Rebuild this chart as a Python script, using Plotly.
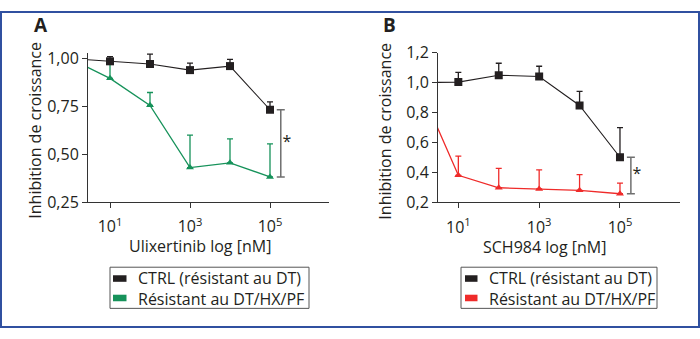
import plotly.graph_objects as go

# ---- data -------------------------------------------------------------
doses = [1, 10, 100, 1000, 10000, 100000]  # nM

# Panel A : Ulixertinib
ulix_ctrl = [1.0, 0.985, 0.971, 0.939, 0.960, 0.732]
ulix_ctrl_err = [0.0, 0.025, 0.052, 0.037, 0.035, 0.041]
ulix_res = [1.0, 0.896, 0.755, 0.430, 0.455, 0.381]
ulix_res_err = [0.0, 0.075, 0.067, 0.169, 0.125, 0.173]

# Panel B : SCH984
sch_ctrl = [1.0, 1.004, 1.050, 1.042, 0.848, 0.502]
sch_ctrl_err = [0.0, 0.065, 0.080, 0.068, 0.094, 0.198]
sch_res = [1.0, 0.381, 0.298, 0.290, 0.281, 0.258]
sch_res_err = [0.0, 0.128, 0.129, 0.127, 0.105, 0.071]

series_names = ["CTRL (résistant au DT)", "Résistant au DT/HX/PF"]
x_titles = ["Ulixertinib log [nM]", "SCH984 log [nM]"]
y_title = "Inhibition de croissance"
panel_letters = ["A", "B"]
x_tickvals = [10, 1000, 100000]
x_ticktext = ["10<sup>1</sup>", "10<sup>3</sup>", "10<sup>5</sup>"]
signif = "*"

# ---- style ------------------------------------------------------------
W, H = 700, 339
FONT = "Open Sans"
TXT = "#231f20"
AXC = "#333333"
BLACK = "#231f20"
GREEN = "#16925a"
RED = "#ef2b2a"
GREY = "#6f6f6f"
LEG_SIZE = 16
LEG_STEP = 1.3 * LEG_SIZE  # plotly line spacing for <br>


def px(xp):
    return xp / W


def py(yp):
    return 1 - yp / H


fig = go.Figure()


def add_panel(xa, ya, ctrl, ctrl_err, res, res_err, res_color):
    fig.add_trace(go.Scatter(
        x=doses, y=res, xaxis=xa, yaxis=ya, mode="lines+markers",
        line=dict(color=res_color, width=1.3),
        marker=dict(symbol="triangle-up", size=7, color=res_color),
        error_y=dict(type="data", array=res_err, arrayminus=[0] * len(res_err),
                     color=res_color, thickness=1.3, width=3),
        showlegend=False, cliponaxis=True))
    fig.add_trace(go.Scatter(
        x=doses, y=ctrl, xaxis=xa, yaxis=ya, mode="lines+markers",
        line=dict(color=BLACK, width=1.1),
        marker=dict(symbol="square", size=8, color=BLACK),
        error_y=dict(type="data", array=ctrl_err, arrayminus=[0] * len(ctrl_err),
                     color=BLACK, thickness=1.3, width=3),
        showlegend=False, cliponaxis=True))
    # significance bracket between the two highest-dose means
    mid = (ctrl[-1] + res[-1]) / 2
    half = (ctrl[-1] - res[-1]) / 2
    fig.add_trace(go.Scatter(
        x=[doses[-1] * 1.86], y=[mid], xaxis=xa, yaxis=ya, mode="markers+text",
        marker=dict(size=1, color="rgba(0,0,0,0)"),
        error_y=dict(type="data", array=[half], color=GREY, thickness=1.5, width=4),
        text=[signif], textposition="middle right",
        textfont=dict(family=FONT, size=16, color=TXT),
        showlegend=False, cliponaxis=False))


add_panel("x", "y", ulix_ctrl, ulix_ctrl_err, ulix_res, ulix_res_err, GREEN)
add_panel("x2", "y2", sch_ctrl, sch_ctrl_err, sch_res, sch_res_err, RED)

xcommon = dict(type="log", showline=True, linecolor=AXC, linewidth=1,
               ticks="outside", ticklen=5, tickcolor=AXC, tickwidth=1,
               ticklabelstandoff=5,
               tickvals=x_tickvals, ticktext=x_ticktext, showgrid=False,
               zeroline=False, tickfont=dict(family=FONT, size=16, color=TXT))
ycommon = dict(showline=True, linecolor=AXC, linewidth=1, ticks="outside",
               ticklen=5, tickcolor=AXC, tickwidth=1, showgrid=False,
               zeroline=False, tickfont=dict(family=FONT, size=16, color=TXT))

fig.update_layout(
    width=W, height=H, margin=dict(l=0, r=0, t=0, b=0),
    paper_bgcolor="white", plot_bgcolor="white", separators=", ",
    font=dict(family=FONT, color=TXT),
    xaxis=dict(domain=[px(88), px(329)], range=[0.45, 6.475], anchor="y", **xcommon),
    yaxis=dict(domain=[py(204.3), py(45)], range=[0.25, 1.028], anchor="x",
               tick0=0.25, dtick=0.25, tickformat=".2f", **ycommon),
    xaxis2=dict(domain=[px(438), px(680)], range=[0.497, 6.485], anchor="y2", **xcommon),
    yaxis2=dict(domain=[py(204.7), py(44.7)], range=[0.2, 1.2], anchor="x2",
                tick0=0.2, dtick=0.2, tickformat=".1f", **ycommon),
    showlegend=False,
)

ann = []
shapes = []

# outer frame
shapes.append(dict(type="rect", xref="paper", yref="paper",
                   x0=px(1), x1=px(699), y0=py(338), y1=py(1),
                   line=dict(color="#3050a0", width=2)))

panels = [
    dict(letter=(41, 15), ytitle=(35, 128), xtitle=(200, 251),
         box=(110, 309), sw=(113, 126.5), txt=136, color=GREEN),
    dict(letter=(389, 15), ytitle=(385, 129), xtitle=(544, 252),
         box=(461, 657), sw=(465, 477.5), txt=487, color=RED),
]

LEG_MID = 296.5

for i, p in enumerate(panels):
    ann.append(dict(text=f"<b>{panel_letters[i]}</b>", xref="paper", yref="paper",
                    x=px(p["letter"][0]), y=py(p["letter"][1]), showarrow=False,
                    xanchor="center", yanchor="middle",
                    font=dict(family=FONT, size=19, color=TXT)))
    ann.append(dict(text=y_title, xref="paper", yref="paper", textangle=-90,
                    x=px(p["ytitle"][0]), y=py(p["ytitle"][1]), showarrow=False,
                    xanchor="center", yanchor="middle",
                    font=dict(family=FONT, size=16, color=TXT)))
    ann.append(dict(text=x_titles[i], xref="paper", yref="paper",
                    x=px(p["xtitle"][0]), y=py(p["xtitle"][1]), showarrow=False,
                    xanchor="center", yanchor="middle",
                    font=dict(family=FONT, size=16, color=TXT)))
    # legend box with colour keys and the two series names
    shapes.append(dict(type="rect", xref="paper", yref="paper",
                       x0=px(p["box"][0]), x1=px(p["box"][1]), y0=py(318), y1=py(274),
                       line=dict(color="#555555", width=1), fillcolor="white"))
    for j, col in enumerate([BLACK, p["color"]]):
        yc = LEG_MID + (j - 0.5) * LEG_STEP
        shapes.append(dict(type="rect", xref="paper", yref="paper",
                           x0=px(p["sw"][0]), x1=px(p["sw"][1]),
                           y0=py(yc + 3.5), y1=py(yc - 3.5),
                           line=dict(width=0), fillcolor=col))
    ann.append(dict(text="<br>".join(series_names), xref="paper", yref="paper",
                    x=px(p["txt"]), y=py(LEG_MID), showarrow=False,
                    xanchor="left", yanchor="middle", align="left",
                    font=dict(family=FONT, size=LEG_SIZE, color=TXT)))

fig.update_layout(annotations=ann, shapes=shapes)
fig.write_html("out.html")
